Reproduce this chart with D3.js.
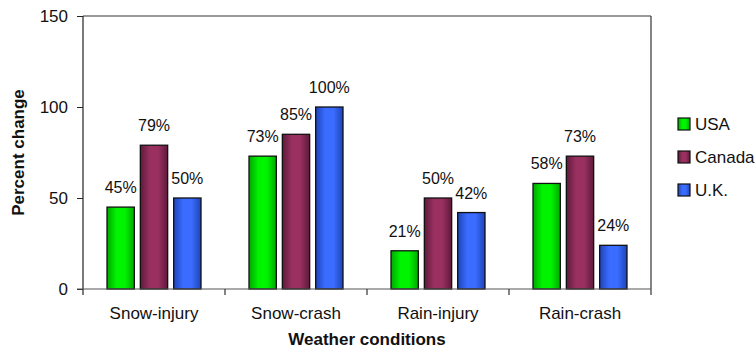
<!DOCTYPE html>
<html>
<head>
<meta charset="utf-8">
<script src="https://cdn.jsdelivr.net/npm/d3@7"></script>
<style>
  body { margin: 0; background: #fff; }
  text { font-family: "Liberation Sans", Arial, sans-serif; fill: #111; }
</style>
</head>
<body>
<svg id="chart" width="756" height="349"></svg>
<script>
// Percent change in crash / injury rates by weather condition
const categories = ["Snow-injury", "Snow-crash", "Rain-injury", "Rain-crash"];
const seriesNames = ["USA", "Canada", "U.K."];
const usaValues = [45, 73, 21, 58];
const canadaValues = [79, 85, 50, 73];
const ukValues = [50, 100, 42, 24];
const yTicks = [0, 50, 100, 150];

const seriesValues = [usaValues, canadaValues, ukValues];
const colors = {
  "USA":    { mid: "#00f400", edge: "#00a800" },
  "Canada": { mid: "#9a3060", edge: "#5e1a3a" },
  "U.K.":   { mid: "#3a6cff", edge: "#1d44b8" }
};

const svg = d3.select("#chart");
const margin = { left: 83, right: 105, top: 16, bottom: 60 };
const W = 756, H = 349;
const plotW = W - margin.left - margin.right;
const plotH = H - margin.top - margin.bottom;

// bar gradients: darker toward the edges
const defs = svg.append("defs");
seriesNames.forEach((s, i) => {
  const g = defs.append("linearGradient").attr("id", "grad" + i)
    .attr("x1", "0%").attr("x2", "100%").attr("y1", "0%").attr("y2", "0%");
  g.append("stop").attr("offset", "0%").attr("stop-color", colors[s].edge);
  g.append("stop").attr("offset", "35%").attr("stop-color", colors[s].mid);
  g.append("stop").attr("offset", "65%").attr("stop-color", colors[s].mid);
  g.append("stop").attr("offset", "100%").attr("stop-color", colors[s].edge);
});

const x = d3.scaleBand().domain(categories).range([0, plotW]).padding(0);
const xs = d3.scaleBand().domain(seriesNames)
  .range([24, x.bandwidth() - 24]).paddingInner(0.18).paddingOuter(0);
const y = d3.scaleLinear().domain([0, 150]).range([plotH, 0]);

const g = svg.append("g").attr("transform", `translate(${margin.left},${margin.top})`);

// frame: top and right border lines
g.append("line").attr("x1", 0).attr("x2", plotW).attr("y1", 0).attr("y2", 0)
  .attr("stroke", "#777").attr("stroke-width", 1.5);
g.append("line").attr("x1", plotW).attr("x2", plotW).attr("y1", 0).attr("y2", plotH + 6)
  .attr("stroke", "#333").attr("stroke-width", 1.2);

// bars
categories.forEach((c, ci) => {
  seriesNames.forEach((s, si) => {
    const v = seriesValues[si][ci];
    const bx = x(c) + xs(s);
    g.append("rect")
      .attr("x", bx).attr("y", y(v))
      .attr("width", xs.bandwidth()).attr("height", plotH - y(v))
      .attr("fill", `url(#grad${si})`)
      .attr("stroke", "#111").attr("stroke-width", 1.3);
    g.append("text")
      .attr("x", bx + xs.bandwidth() / 2).attr("y", y(v) - 14)
      .attr("text-anchor", "middle").attr("font-size", 16)
      .text(v + "%");
  });
});

// y axis
const yAxis = g.append("g").call(
  d3.axisLeft(y).tickValues(yTicks).tickSize(6).tickPadding(9).tickFormat(d3.format("d"))
);
yAxis.select(".domain").attr("stroke", "#222").attr("stroke-width", 1.2)
  .attr("d", `M0,${plotH + 6}V0`);
yAxis.selectAll(".tick line").attr("stroke", "#222");
yAxis.selectAll(".tick text").attr("font-size", 17).attr("fill", "#111")
  .attr("font-family", "Liberation Sans, Arial, sans-serif");
yAxis.select(".tick:last-of-type line").attr("x2", -6);

// x axis with ticks at category boundaries
const xAxisG = g.append("g").attr("transform", `translate(0,${plotH})`);
xAxisG.append("line").attr("x1", -6).attr("x2", plotW).attr("y1", 0).attr("y2", 0)
  .attr("stroke", "#555").attr("stroke-width", 1.2);
const boundaries = categories.slice(1).map(c => x(c));
xAxisG.selectAll(".btick").data(boundaries).join("line")
  .attr("class", "btick")
  .attr("x1", d => d).attr("x2", d => d).attr("y1", 0).attr("y2", 6)
  .attr("stroke", "#333").attr("stroke-width", 1.2);
xAxisG.selectAll(".clabel").data(categories).join("text")
  .attr("class", "clabel")
  .attr("x", d => x(d) + x.bandwidth() / 2).attr("y", 30)
  .attr("text-anchor", "middle").attr("font-size", 17)
  .text(d => d);

// axis titles
svg.append("text")
  .attr("x", margin.left + plotW / 2).attr("y", 345)
  .attr("text-anchor", "middle").attr("font-size", 17).attr("font-weight", "bold")
  .text("Weather conditions");
svg.append("text")
  .attr("transform", `translate(24,${margin.top + y(75)}) rotate(-90)`)
  .attr("text-anchor", "middle").attr("font-size", 17).attr("font-weight", "bold")
  .text("Percent change");

// legend
const legend = svg.append("g").attr("transform", "translate(678,118)");
seriesNames.forEach((s, i) => {
  const row = legend.append("g").attr("transform", `translate(0,${i * 33})`);
  row.append("rect").attr("x", 0).attr("y", 0).attr("width", 12).attr("height", 12)
    .attr("fill", `url(#grad${i})`).attr("stroke", "#111").attr("stroke-width", 1.2);
  row.append("text").attr("x", 17).attr("y", 12).attr("font-size", 17).text(s);
});
</script>
</body>
</html>
